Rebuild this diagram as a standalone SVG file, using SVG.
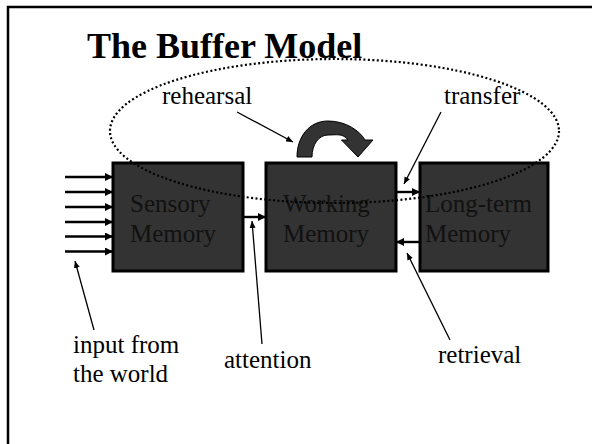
<svg xmlns="http://www.w3.org/2000/svg" width="592" height="444" viewBox="0 0 592 444">
<defs>
<style>
.box{fill:#333333;stroke:#000;stroke-width:3}
.bt{font-family:"Liberation Serif","Times New Roman",serif;font-size:25px;fill:#111}
.lbl{font-family:"Liberation Serif","Times New Roman",serif;font-size:25px;fill:#000}
.thick{stroke:#000;stroke-width:2.4;fill:none;marker-end:url(#ah)}
.lead{stroke:#000;stroke-width:1.3;fill:none;marker-end:url(#sh)}
</style>
<marker id="ah" markerUnits="userSpaceOnUse" markerWidth="8" markerHeight="8" refX="8" refY="4" orient="auto">
<path d="M0,0 L8,4 L0,8 z" fill="#000"/>
</marker>
<marker id="sh" markerUnits="userSpaceOnUse" markerWidth="7" markerHeight="6" refX="7" refY="3" orient="auto">
<path d="M0,0 L7,3 L0,6 z" fill="#000"/>
</marker>
</defs>
<rect width="592" height="444" fill="#fff"/>
<path d="M8,450 L8,7 L600,7" fill="none" stroke="#000" stroke-width="2.5"/>
<text x="87" y="58" font-family="'Liberation Serif','Times New Roman',serif" font-size="36" font-weight="bold">The Buffer Model</text>

<g id="sensory">
<rect class="box" x="113" y="163" width="130" height="108"/>
<text class="bt" x="130" y="212">Sensory</text>
<text class="bt" x="130" y="242">Memory</text>
</g>
<g id="working">
<rect class="box" x="266" y="163" width="130" height="108"/>
<text class="bt" x="283" y="212">Working</text>
<text class="bt" x="283" y="242">Memory</text>
</g>
<g id="longterm">
<rect class="box" x="420" y="163" width="128" height="108"/>
<text class="bt" x="425" y="212">Long-term</text>
<text class="bt" x="425" y="242">Memory</text>
</g>

<g id="rehearsal-loop">
<path d="M297,157 C297,137 309,121 328,121 C346,121 360,131 365,140 L373,140 L358,157 L341.5,140 L348,140 C343,133 336,135 328,135 C319,135 312,144 312,157 Z" fill="#333" stroke="#000" stroke-width="1"/>
</g>

<g id="connectors">
<line class="thick" x1="65" y1="177" x2="113" y2="177"/>
<line class="thick" x1="65" y1="192" x2="113" y2="192"/>
<line class="thick" x1="65" y1="207" x2="113" y2="207"/>
<line class="thick" x1="65" y1="222" x2="113" y2="222"/>
<line class="thick" x1="65" y1="236.5" x2="113" y2="236.5"/>
<line class="thick" x1="65" y1="251.5" x2="113" y2="251.5"/>
<line class="thick" x1="243" y1="217" x2="266" y2="217"/>
<line class="thick" x1="396" y1="192" x2="420" y2="192"/>
<line class="thick" x1="420" y1="242" x2="396" y2="242"/>
<line class="lead" x1="237" y1="112" x2="293" y2="142"/>
<line class="lead" x1="441" y1="112" x2="404" y2="184"/>
<line class="lead" x1="94" y1="330" x2="75" y2="261"/>
<line class="lead" x1="262" y1="344" x2="252" y2="221"/>
<line class="lead" x1="450" y1="340" x2="407" y2="253"/>
</g>

<ellipse cx="334.5" cy="131" rx="224.5" ry="72" fill="none" stroke="#000" stroke-width="2.2" stroke-dasharray="2 2.4"/>

<g id="labels">
<text class="lbl" x="162" y="104">rehearsal</text>
<text class="lbl" x="444" y="104">transfer</text>
<text class="lbl" x="73" y="353">input from</text>
<text class="lbl" x="73" y="382">the world</text>
<text class="lbl" x="224" y="368">attention</text>
<text class="lbl" x="438" y="363">retrieval</text>
</g>
</svg>
